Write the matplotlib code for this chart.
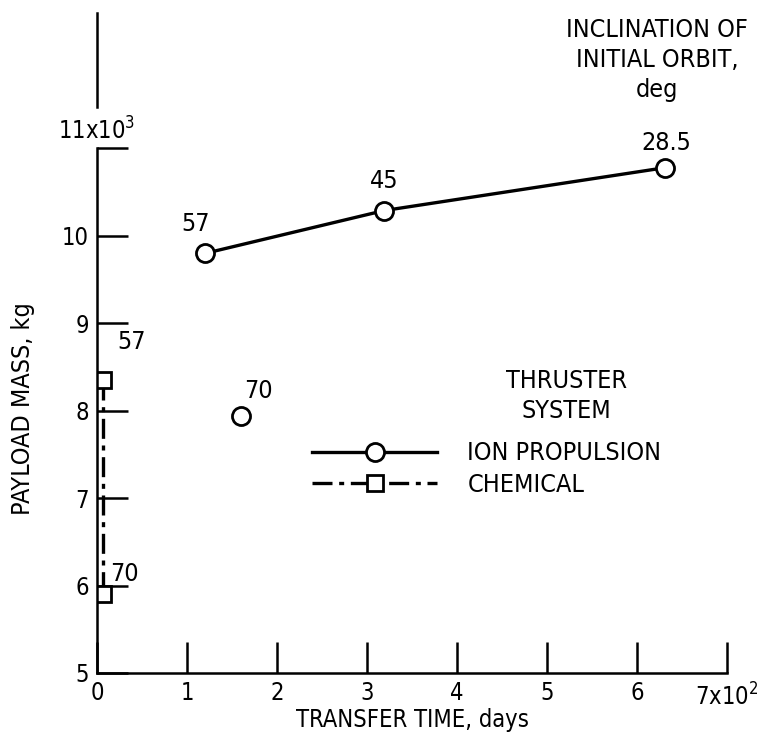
import matplotlib.pyplot as plt

# values in units of 100 days (x) and 1000 kg (y)
ion_time = [1.2, 3.19, 6.31]
ion_mass = [9.8, 10.29, 10.78]
ion_incl = ["57", "45", "28.5"]

ion70_time = [1.6]
ion70_mass = [7.94]

chem_time = [0.07, 0.07]
chem_mass = [8.35, 5.9]
chem_incl = ["57", "70"]

xticks = [0, 1, 2, 3, 4, 5, 6, 7]
yticks = [5, 6, 7, 8, 9, 10, 11]

plt.rcParams['font.family'] = ['DejaVu Sans']
plt.rcParams['font.stretch'] = 'condensed'
plt.rcParams['font.size'] = 18

fig = plt.figure(figsize=(7.61, 7.42), dpi=100)
ax = fig.add_axes([0.1275, 0.093, 0.8278, 0.8895])

ax.plot(ion_time, ion_mass, '-o', color='black', lw=2.4, ms=13,
        mfc='white', mew=2, label='ION PROPULSION')
ax.plot(ion70_time, ion70_mass, 'o', color='black', ms=13, mfc='white', mew=2)
ax.plot(chem_time, chem_mass, color='black', lw=2.4, ls=(0, (6, 2, 1.5, 2)),
        marker='s', ms=12, mfc='white', mew=2, label='CHEMICAL')

# point labels
ax.text(ion_time[0] - 0.1, ion_mass[0] + 0.2, ion_incl[0], ha='center', va='bottom')
ax.text(ion_time[1], ion_mass[1] + 0.2, ion_incl[1], ha='center', va='bottom')
ax.text(ion_time[2] + 0.02, ion_mass[2] + 0.15, ion_incl[2], ha='center', va='bottom')
ax.text(ion70_time[0] + 0.03, ion70_mass[0] + 0.15, "70", ha='left', va='bottom')
ax.text(chem_time[0] + 0.15, chem_mass[0] + 0.3, chem_incl[0], ha='left', va='bottom')
ax.text(chem_time[1] + 0.07, chem_mass[1] + 0.1, chem_incl[1], ha='left', va='bottom')

ax.set_xlim(0, 7)
ax.set_ylim(5, 12.55)
ax.set_xticks(xticks)
ax.set_xticklabels([str(v) for v in xticks[:-1]] + [""])
ax.set_yticks(yticks)
ax.set_yticklabels([str(v) for v in yticks[:-1]] + [""])
ax.tick_params(direction='in', length=22, width=1.8, pad=6, labelsize=17)

ax.text(7, 5 - 0.12, "7x10$^2$", ha='center', va='top', fontsize=17, clip_on=False)
ax.text(0, 11.05, "11x10$^3$", ha='center', va='bottom', fontsize=17, clip_on=False)

for s in ['top', 'right']:
    ax.spines[s].set_visible(False)
ax.spines['left'].set_linewidth(1.8)
ax.spines['bottom'].set_linewidth(1.8)
ax.spines['left'].set_bounds(5, 11)
ax.plot([0, 0], [11.48, 12.55], color='black', lw=1.8, clip_on=False)

ax.set_xlabel("TRANSFER TIME, days", labelpad=2, fontsize=17)
ax.set_ylabel("PAYLOAD MASS, kg", fontsize=18)
ax.yaxis.set_label_coords(-0.098, 0.40)

ax.text(6.22, 12.49, "INCLINATION OF\nINITIAL ORBIT,\ndeg", ha='center', va='top',
        linespacing=1.3)
ax.text(5.22, 7.86, "THRUSTER\nSYSTEM", ha='center', va='bottom', linespacing=1.3)
ax.legend(loc='upper left', bbox_to_anchor=(0.326, 0.366), frameon=False,
          numpoints=1, handlelength=5.0, handletextpad=1.2, labelspacing=0.3,
          borderaxespad=0)

fig.savefig('out.png', dpi=100)
